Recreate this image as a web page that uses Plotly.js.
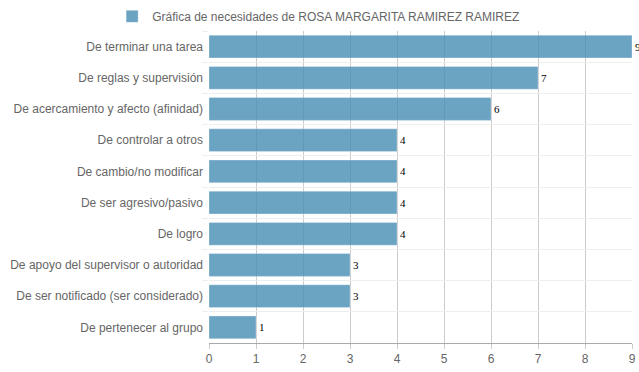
<!DOCTYPE html>
<html><head><meta charset="utf-8">
<script src="https://cdn.plot.ly/plotly-3.0.1.min.js"></script>
<style>html,body{margin:0;padding:0;background:#fff}</style>
</head><body>
<div id="chart" style="width:639px;height:372px"></div>
<script>
const categories = [
  "De terminar una tarea",
  "De reglas y supervisión",
  "De acercamiento y afecto (afinidad)",
  "De controlar a otros",
  "De cambio/no modificar",
  "De ser agresivo/pasivo",
  "De logro",
  "De apoyo del supervisor o autoridad",
  "De ser notificado (ser considerado)",
  "De pertenecer al grupo"
];
const values = [9, 7, 6, 4, 4, 4, 4, 3, 3, 1];
const seriesName = "Gráfica de necesidades de ROSA MARGARITA RAMIREZ RAMIREZ";
const xTicks = [0,1,2,3,4,5,6,7,8,9];

const trace = {
  type: 'bar', orientation: 'h',
  x: values, y: categories, name: seriesName,
  text: values.map(String), textposition: 'outside', cliponaxis: false, constraintext: 'none',
  textfont: {family: 'Liberation Serif, serif', size: 11, color: '#000'},
  marker: {color: 'rgba(70,140,180,0.8)', line: {color: 'rgba(255,255,255,0.3)', width: 1}},
  showlegend: true
};
const layout = {
  width: 639, height: 372,
  margin: {l: 209, r: 7, t: 31, b: 29, autoexpand: false},
  paper_bgcolor: '#fff', plot_bgcolor: '#fff',
  font: {family: 'Liberation Sans, Arial, sans-serif', size: 12, color: '#666'},
  bargap: 0.27,
  showlegend: true,
  legend: {orientation: 'h', x: -0.229, xanchor: 'left', y: 0.995, yref: 'container', yanchor: 'top',
           font: {size: 12, color: '#666'}, itemwidth: 30},
  xaxis: {range: [0, 9], tickvals: xTicks, ticktext: xTicks.map(String),
          showgrid: true, gridcolor: '#ccc', zeroline: false,
          showline: true, linecolor: '#aaa', ticks: 'outside', ticklen: 5, tickcolor: '#ccc',
          tickfont: {size: 12, color: '#666'}, fixedrange: true},
  yaxis: {type: 'category', autorange: 'reversed', tickson: 'boundaries',
          showgrid: true, gridcolor: '#eee', ticks: 'outside', ticklen: 6, tickcolor: '#eee',
          showline: false, zeroline: false, ticklabelstandoff: 5,
          tickfont: {size: 12, color: '#666'}}
};
Plotly.newPlot('chart', [trace], layout, {displayModeBar: false, staticPlot: true});
</script>
</body></html>
